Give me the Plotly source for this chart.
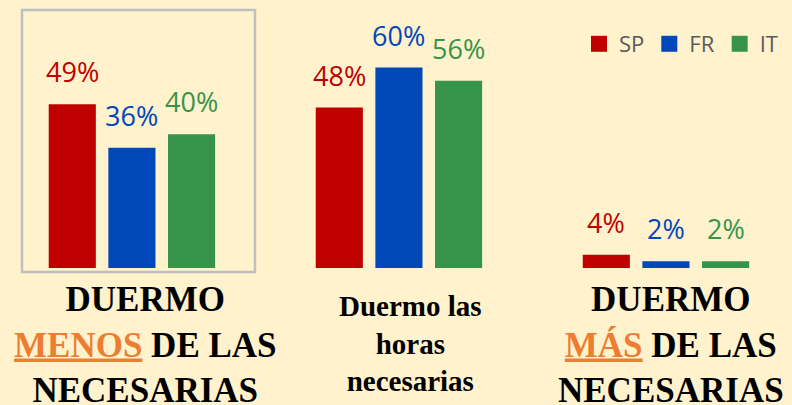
import plotly.graph_objects as go

# ---- data ----
categories = ["menos", "iguales", "mas"]
series_names = ["SP", "FR", "IT"]
sp_values = [49, 48, 4]
fr_values = [36, 60, 2]
it_values = [40, 56, 2]
series_values = [sp_values, fr_values, it_values]
category_labels = [
    "<b>DUERMO<br><span style='color:#ED7D31'><u>MENOS</u></span> DE LAS<br>NECESARIAS</b>",
    "<b>Duermo las<br>horas<br>necesarias</b>",
    "<b>DUERMO<br><span style='color:#ED7D31'><u>MÁS</u></span> DE LAS<br>NECESARIAS</b>",
]

# ---- style ----
colors = ["#C00000", "#0047BA", "#37934A"]
bg = "#FFF2CC"
bargap = 0.33
bargroupgap = 0.21
W, H = 792, 405
x_range = [-0.494, 2.472]
y_range = [0, 80.2]

fig = go.Figure()
for name, vals, col in zip(series_names, series_values, colors):
    fig.add_trace(go.Bar(x=categories, y=vals, name=name, marker_color=col,
                         marker_line_width=0, showlegend=False))
    # legend proxy with larger square symbol
    fig.add_trace(go.Scatter(x=[None], y=[None], mode="markers", name=name,
                             marker=dict(symbol="square", size=16, color=col),
                             showlegend=True))

# value labels above bars
n = len(series_names)
annotations = []
for j, (vals, col) in enumerate(zip(series_values, colors)):
    for i, v in enumerate(vals):
        xpos = i + (j - (n - 1) / 2) * (1 - bargap) / n
        annotations.append(dict(x=xpos, y=v, xref="x", yref="y", text=f"{v}%",
                                showarrow=False, yanchor="bottom", yshift=12,
                                font=dict(family="Open Sans", size=27, color=col)))

# category labels
label_sizes = [35, 29, 35]
label_xshift = [14, 12, 5]
label_yshift = [-10, -20, -10]
for i, (txt, sz) in enumerate(zip(category_labels, label_sizes)):
    annotations.append(dict(x=i, y=0, xref="x", yref="paper", text=txt,
                            showarrow=False, yanchor="top", xanchor="center",
                            xshift=label_xshift[i], yshift=label_yshift[i],
                            align="center",
                            font=dict(family="Liberation Serif", size=sz, color="#000000")))

plot_h = H - 137
box_shape = dict(type="rect", xref="paper", yref="paper",
                 x0=22 / W, x1=255 / W, y0=(plot_h - 272) / plot_h, y1=(plot_h - 10) / plot_h,
                 line=dict(color="#BFBFBF", width=2.5), fillcolor="rgba(0,0,0,0)")

fig.update_layout(
    width=W, height=H,
    margin=dict(l=0, r=0, t=0, b=137),
    paper_bgcolor=bg, plot_bgcolor=bg,
    barmode="group", bargap=bargap, bargroupgap=bargroupgap,
    xaxis=dict(range=x_range, showticklabels=False, showgrid=False, zeroline=False,
               showline=False, ticks=""),
    yaxis=dict(range=y_range, visible=False, showgrid=False),
    legend=dict(orientation="h", x=579 / W, xanchor="left", y=(plot_h - 23) / plot_h,
                yanchor="top", bgcolor="rgba(0,0,0,0)",
                font=dict(family="Open Sans", size=22, color="#595959")),
    annotations=annotations,
    shapes=[box_shape],
)

fig.write_html("out.html", config={"displayModeBar": False},
               post_script="document.body.style.margin='0';document.body.style.overflow='hidden';")
